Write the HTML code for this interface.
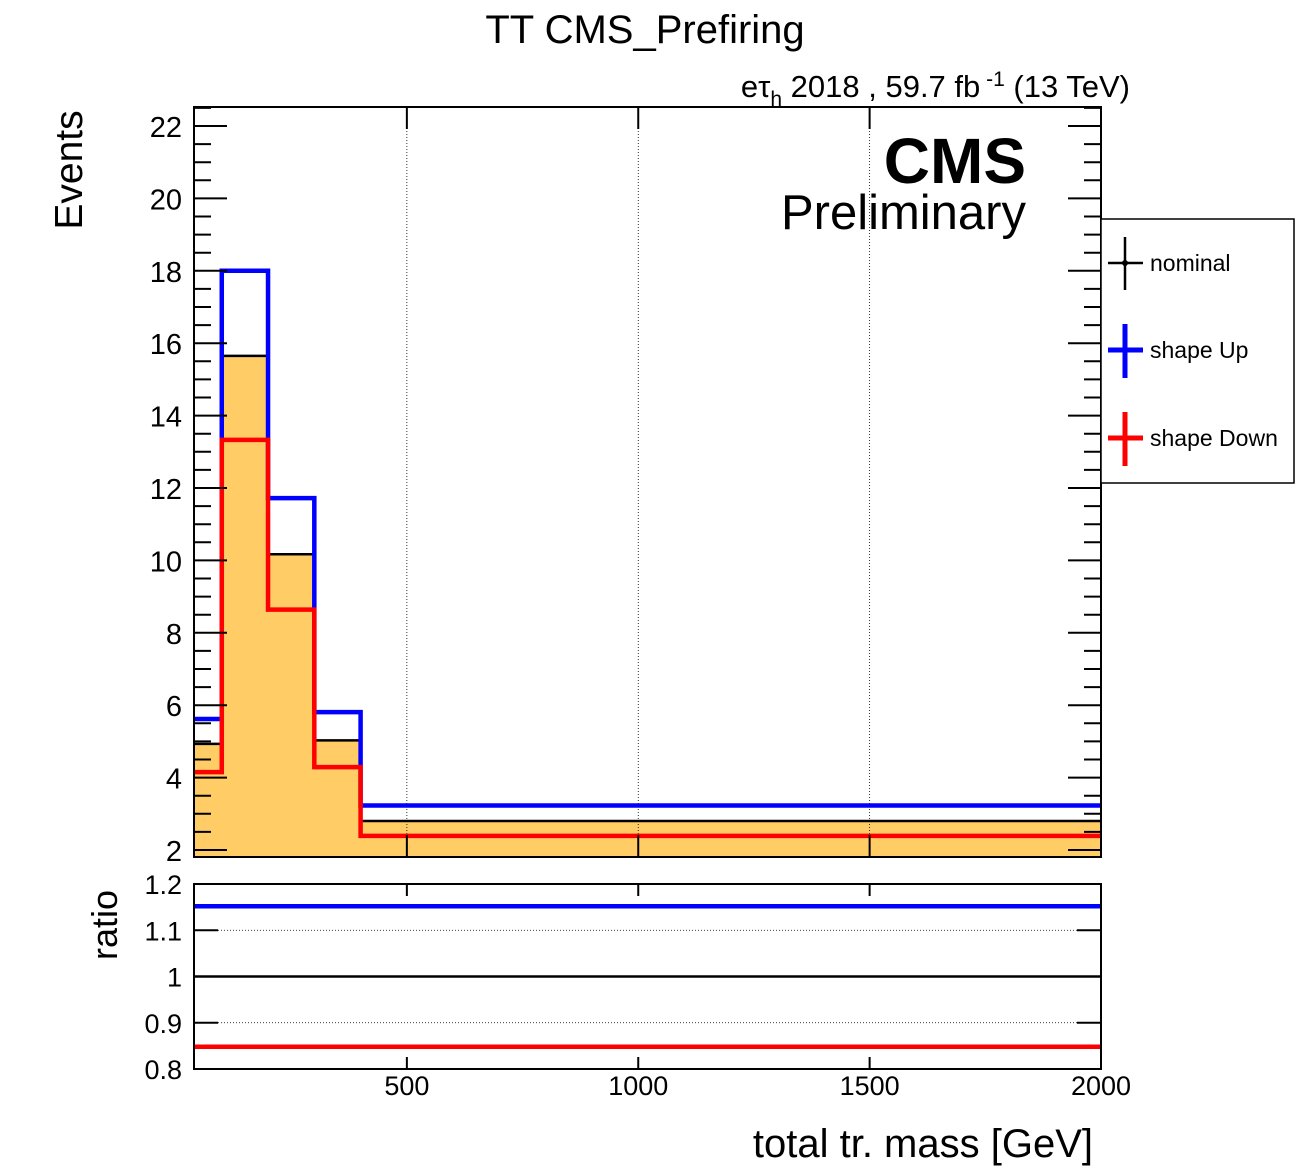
<!DOCTYPE html>
<html><head><meta charset="utf-8"><style>
body{margin:0;background:#fff;}
svg{display:block;font-family:"Liberation Sans",sans-serif;}
</style></head><body>
<svg id="c" width="1296" height="1172" xmlns="http://www.w3.org/2000/svg">
<text x="645" y="43" font-size="40" text-anchor="middle">TT CMS_Prefiring</text>
<text x="1130" y="97" font-size="31" text-anchor="end">eτ<tspan font-size="21" dy="9">h</tspan><tspan dy="-9"> 2018 , 59.7 fb</tspan><tspan font-size="21" dy="-11"> -1</tspan><tspan dy="11"> (13 TeV)</tspan></text>
<text x="1026" y="183" font-size="64" font-weight="bold" text-anchor="end">CMS</text>
<text x="1026" y="229" font-size="49" text-anchor="end">Preliminary</text>
<text transform="translate(82,170) rotate(-90)" font-size="39" text-anchor="middle">Events</text>
<text transform="translate(117,925) rotate(-90)" font-size="36" text-anchor="middle">ratio</text>
<text x="1093" y="1157" font-size="40" text-anchor="end">total tr. mass [GeV]</text>
<g id="main"></g>
<g id="ratio"></g>
<g>
<rect x="1101" y="219" width="193" height="264" fill="#fff" stroke="#000" stroke-width="1.5"/>
<g><line x1="1108" y1="263" x2="1143" y2="263" stroke="#000" stroke-width="2.5"/><line x1="1125" y1="237" x2="1125" y2="290" stroke="#000" stroke-width="2.5"/><circle cx="1125" cy="263" r="3" fill="#000"/><text x="1150" y="271" font-size="23">nominal</text></g>
<g><line x1="1108" y1="350" x2="1143" y2="350" stroke="#00f" stroke-width="5"/><line x1="1125" y1="324" x2="1125" y2="378" stroke="#00f" stroke-width="5"/><text x="1150" y="358" font-size="23">shape Up</text></g>
<g><line x1="1108" y1="438" x2="1143" y2="438" stroke="#f00" stroke-width="5"/><line x1="1125" y1="412" x2="1125" y2="466" stroke="#f00" stroke-width="5"/><text x="1150" y="446" font-size="23">shape Down</text></g>
</g>
</svg>
<script>
const binEdges=[40,100,200,300,400,2000];
const nominal=[4.93,15.65,10.17,5.03,2.8];
const shapeUp=[5.62,18.0,11.72,5.81,3.23];
const shapeDown=[4.15,13.33,8.64,4.29,2.39];
const ratioUp=[1.152,1.152,1.152,1.152,1.152];
const ratioDown=[0.848,0.848,0.848,0.848,0.848];
const yTicks=[2,4,6,8,10,12,14,16,18,20,22];
const rTicks=[0.8,0.9,1,1.1,1.2];
const rTickLabels=["0.8","0.9","1","1.1","1.2"];
const xTicks=[500,1000,1500,2000];

const NS="http://www.w3.org/2000/svg";
const L=194,R=1101,T=107,B=857,RT=884,RB=1069;
const X=v=>L+(v-40)*(R-L)/(2000-40);
const Y=v=>850-(v-2)*36.2;
const RY=v=>1069-(v-0.8)*(RB-RT)/0.4;
function mk(p,tag,a){const e=document.createElementNS(NS,tag);for(const k in a)e.setAttribute(k,a[k]);p.appendChild(e);return e;}
const main=document.getElementById('main'), ratio=document.getElementById('ratio');
let d='M'+X(binEdges[0])+','+B;
nominal.forEach((v,i)=>{d+=' L'+X(binEdges[i])+','+Y(v)+' L'+X(binEdges[i+1])+','+Y(v);});
d+=' L'+X(binEdges[5])+','+B+' Z';
let f=mk(main,'path',{d:d,fill:'#ffcc66',stroke:'none'});


xTicks.slice(0,3).forEach(t=>{const g=mk(main,'line',{x1:X(t),x2:X(t),y1:T,y2:B,stroke:'#000','stroke-width':0.8,'stroke-dasharray':'1,2'});


const g2=mk(ratio,'line',{x1:X(t),x2:X(t),y1:RT,y2:RT+12,stroke:'#000','stroke-width':2});


const g3=mk(ratio,'line',{x1:X(t),x2:X(t),y1:RB,y2:RB-12,stroke:'#000','stroke-width':2});

});
[0.9,1.1].forEach(t=>{const g=mk(ratio,'line',{x1:L,x2:R,y1:RY(t),y2:RY(t),stroke:'#000','stroke-width':0.8,'stroke-dasharray':'1,2'});

});
function step(parent,vals,col,w,name,yf,top){
 let p='';vals.forEach((v,i)=>{p+=(i?' L':'M')+X(binEdges[i])+','+yf(v)+' L'+X(binEdges[i+1])+','+yf(v);});
 const e=mk(parent,'path',{d:p,fill:'none',stroke:col,'stroke-width':w});
 
 
}
step(main,nominal,'#000',2.5,'nominal-line',Y,1);
step(main,shapeUp,'#00f',4.5,'shape-up-line',Y,1);
step(main,shapeDown,'#f00',4.5,'shape-down-line',Y,1);
for(let v=2;v<=22.5;v+=0.5){const maj=Math.abs(v%2)<1e-6;const len=maj?33:17;
 const a=mk(main,'line',{x1:L,x2:L+len,y1:Y(v),y2:Y(v),stroke:'#000','stroke-width':2});
 
 
 const b=mk(main,'line',{x1:R,x2:R-len,y1:Y(v),y2:Y(v),stroke:'#000','stroke-width':2});
 
 }
yTicks.forEach(t=>{const e=mk(main,'text',{x:182,y:Y(t)+11,'font-size':29,'text-anchor':'end'});e.textContent=t;
 
 });
xTicks.forEach(t=>{if(t<2000){const a=mk(main,'line',{x1:X(t),x2:X(t),y1:T,y2:T+22,stroke:'#000','stroke-width':2});
 
 
 const b=mk(main,'line',{x1:X(t),x2:X(t),y1:B,y2:B-22,stroke:'#000','stroke-width':2});
 
 }
 const e=mk(ratio,'text',{x:X(t),y:1095,'font-size':27,'text-anchor':'middle'});e.textContent=t;
 
 });
let fr=mk(main,'rect',{x:L,y:T,width:R-L,height:B-T,fill:'none',stroke:'#000','stroke-width':2});


step(ratio,[1,1,1,1,1],'#000',2.5,'ratio-nominal-line',RY,0);
step(ratio,ratioUp,'#00f',4.5,'ratio-up-line',RY,0);
step(ratio,ratioDown,'#f00',4.5,'ratio-down-line',RY,0);
rTicks.forEach((t,i)=>{const a=mk(ratio,'line',{x1:L,x2:L+24,y1:RY(t),y2:RY(t),stroke:'#000','stroke-width':2});
 
 
 const b=mk(ratio,'line',{x1:R,x2:R-24,y1:RY(t),y2:RY(t),stroke:'#000','stroke-width':2});
 
 
 const e=mk(ratio,'text',{x:182,y:RY(t)+10,'font-size':27,'text-anchor':'end'});e.textContent=rTickLabels[i];
 
 });
let rf=mk(ratio,'rect',{x:L,y:RT,width:R-L,height:RB-RT,fill:'none',stroke:'#000','stroke-width':2});


</script>
</body></html>
